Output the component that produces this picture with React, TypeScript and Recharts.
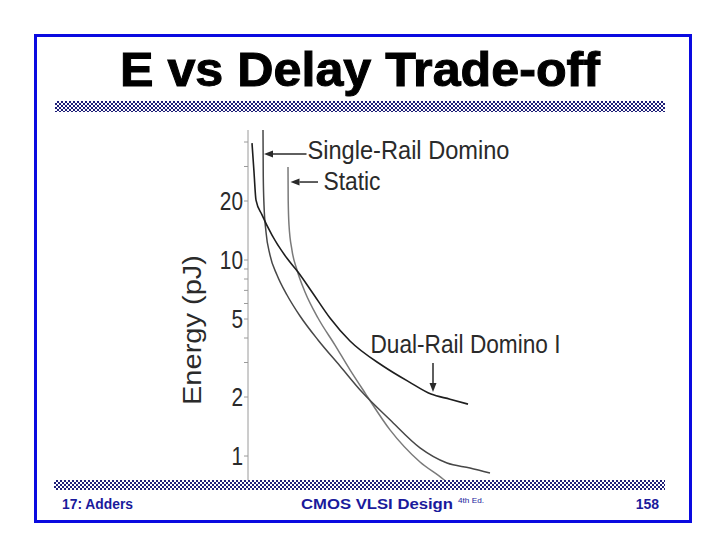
import { LineChart, Line, XAxis, YAxis, ReferenceLine, ReferenceDot } from "recharts";

// delay (arbitrary FO4-like units) vs energy (pJ)
const dualRailDelay = [6.16, 6.24, 6.32, 6.56, 6.96, 7.56, 8.0, 8.56, 9.28, 10.08, 11.4, 12.44, 13.32, 14.08, 14.8];
const dualRailEnergy = [39.5, 28.1, 20.2, 17.0, 13.4, 10.2, 8.69, 6.87, 5.06, 3.86, 2.88, 2.39, 2.07, 1.95, 1.84];

const singleRailDelay = [6.6, 6.61, 6.64, 6.72, 6.88, 7.16, 7.56, 8.08, 8.8, 9.68, 10.56, 11.68, 12.88, 13.96, 14.88, 15.68];
const singleRailEnergy = [46.0, 27.1, 19.1, 13.9, 10.6, 8.39, 6.63, 5.18, 3.91, 2.88, 2.12, 1.53, 1.1, 0.921, 0.869, 0.819];

const staticDelay = [7.6, 7.608, 7.64, 7.76, 7.96, 8.28, 8.8, 9.48, 10.08, 10.68, 11.68, 12.88, 13.8, 13.92];
const staticEnergy = [29.8, 20.2, 15.1, 11.2, 8.89, 6.87, 5.06, 3.68, 2.75, 2.1, 1.36, 0.932, 0.763, 0.74];

const energyTicks = [1, 2, 3, 4, 5, 6, 7, 8, 9, 10, 20, 30, 40];
const energyLabels = [1, 2, 5, 10, 20];

// annotation text and arrows, in data units
const labelNames = ["Single-Rail Domino", "Static", "Dual-Rail Domino I"];
const labelDelay = [8.38, 9.02, 10.9];
const labelEnergy = [32.8, 22.8, 3.35];
const labelWidth = [202, 57, 190];

const arrowFromDelay = [8.34, 8.8, 13.4];
const arrowFromEnergy = [34.7, 25.0, 2.98];
const arrowToDelay = [6.64, 7.7, 13.4];
const arrowToEnergy = [34.7, 25.0, 2.12];

const toPoints = (xs: number[], ys: number[]) => xs.map((delay, i) => ({ delay, energy: ys[i] }));

const dualRail = toPoints(dualRailDelay, dualRailEnergy);
const singleRail = toPoints(singleRailDelay, singleRailEnergy);
const staticCmos = toPoints(staticDelay, staticEnergy);

const FONT = "'Liberation Sans', Arial, sans-serif";
const INK = "#2a2a2a";
const NAVY = "#1a1a9c";
const HATCH = "repeating-conic-gradient(#1f1f78 0% 25%, #ffffff 0% 50%) 0 0 / 4px 4px";

function EnergyTick(props: any) {
  const { x, y, payload } = props;
  if (!energyLabels.includes(payload.value)) return <g />;
  const s = String(payload.value);
  return (
    <text
      x={x}
      y={y + 9}
      textAnchor="end"
      fontFamily={FONT}
      fontSize={25.5}
      fill={INK}
      textLength={s.length * 11.6}
      lengthAdjust="spacingAndGlyphs"
    >
      {s}
    </text>
  );
}

function Arrow(props: any) {
  const { x1, y1, x2, y2 } = props;
  const ang = Math.atan2(y2 - y1, x2 - x1);
  const len = 9;
  const w = 3.5;
  const bx = x2 - len * Math.cos(ang);
  const by = y2 - len * Math.sin(ang);
  const px = -Math.sin(ang) * w;
  const py = Math.cos(ang) * w;
  return (
    <g>
      <line x1={x1} y1={y1} x2={bx} y2={by} stroke={INK} strokeWidth={1.5} />
      <polygon points={`${x2},${y2} ${bx + px},${by + py} ${bx - px},${by - py}`} fill={INK} />
    </g>
  );
}

const labelShape = (text: string, width: number) => (p: any) => (
  <text
    x={p.cx}
    y={p.cy}
    fontFamily={FONT}
    fontSize={26.5}
    fill={INK}
    textLength={width}
    lengthAdjust="spacingAndGlyphs"
  >
    {text}
  </text>
);

export default function App() {
  return (
    <div
      style={{
        position: "absolute",
        left: 0,
        top: 0,
        width: 720,
        height: 540,
        background: "#fff",
        overflow: "hidden",
      }}
    >
      <div
        style={{
          position: "absolute",
          left: 34,
          top: 34,
          width: 658,
          height: 489,
          border: "3px solid #0a0ae0",
          boxSizing: "border-box",
        }}
      />

      <div style={{ position: "absolute", left: 150, top: 120 }}>
        <LineChart width={470} height={370} margin={{ top: 10, right: 22, bottom: 8, left: 0 }}>
          <XAxis dataKey="delay" type="number" domain={[6, 20]} allowDataOverflow hide />
          <YAxis
            type="number"
            scale="log"
            domain={[0.737, 46.06]}
            allowDataOverflow
            ticks={energyTicks}
            interval={0}
            width={98}
            tickSize={4}
            tickMargin={1}
            axisLine={{ stroke: "#9a9a9a" }}
            tickLine={{ stroke: "#9a9a9a" }}
            tick={<EnergyTick />}
          />
          <Line
            data={staticCmos}
            dataKey="energy"
            type="monotone"
            stroke="#7a7a7a"
            strokeWidth={1.5}
            dot={false}
            isAnimationActive={false}
          />
          <Line
            data={singleRail}
            dataKey="energy"
            type="monotone"
            stroke="#474747"
            strokeWidth={1.5}
            dot={false}
            isAnimationActive={false}
          />
          <Line
            data={dualRail}
            dataKey="energy"
            type="monotone"
            stroke="#1e1e1e"
            strokeWidth={1.6}
            dot={false}
            isAnimationActive={false}
          />
          {labelNames.map((name, i) => (
            <ReferenceLine
              key={"a" + name}
              segment={[
                { x: arrowFromDelay[i], y: arrowFromEnergy[i] },
                { x: arrowToDelay[i], y: arrowToEnergy[i] },
              ]}
              shape={Arrow}
            />
          ))}
          {labelNames.map((name, i) => (
            <ReferenceDot
              key={"l" + name}
              x={labelDelay[i]}
              y={labelEnergy[i]}
              r={0}
              shape={labelShape(name, labelWidth[i])}
            />
          ))}
        </LineChart>
      </div>

      <div style={{ position: "absolute", left: 55, top: 101, width: 610, height: 11, background: HATCH }} />
      <div style={{ position: "absolute", left: 54, top: 480, width: 611, height: 10, background: HATCH }} />

      <svg
        width={720}
        height={540}
        style={{ position: "absolute", left: 0, top: 0, pointerEvents: "none" }}
      >
        <text
          x={360}
          y={86}
          textAnchor="middle"
          fontFamily={FONT}
          fontWeight="bold"
          fontSize={48}
          fill="#000"
          stroke="#000"
          strokeWidth={1}
          textLength={480}
          lengthAdjust="spacingAndGlyphs"
        >
          E vs Delay Trade-off
        </text>
        <text
          x={201}
          y={330}
          transform="rotate(-90 201 330)"
          textAnchor="middle"
          fontFamily={FONT}
          fontSize={26.5}
          fill={INK}
          textLength={150}
          lengthAdjust="spacingAndGlyphs"
        >
          Energy (pJ)
        </text>
        <text x={62} y={509} fontFamily={FONT} fontWeight="bold" fontSize={14} fill={NAVY} textLength={71} lengthAdjust="spacingAndGlyphs">
          17: Adders
        </text>
        <text x={301} y={509} fontFamily={FONT} fontWeight="bold" fontSize={14} fill={NAVY} textLength={152} lengthAdjust="spacingAndGlyphs">
          CMOS VLSI Design
        </text>
        <text x={458} y={503} fontFamily={FONT} fontSize={8} fill={NAVY} textLength={26} lengthAdjust="spacingAndGlyphs">
          4th Ed.
        </text>
        <text x={659} y={509} textAnchor="end" fontFamily={FONT} fontWeight="bold" fontSize={14} fill={NAVY}>
          158
        </text>
      </svg>
    </div>
  );
}
